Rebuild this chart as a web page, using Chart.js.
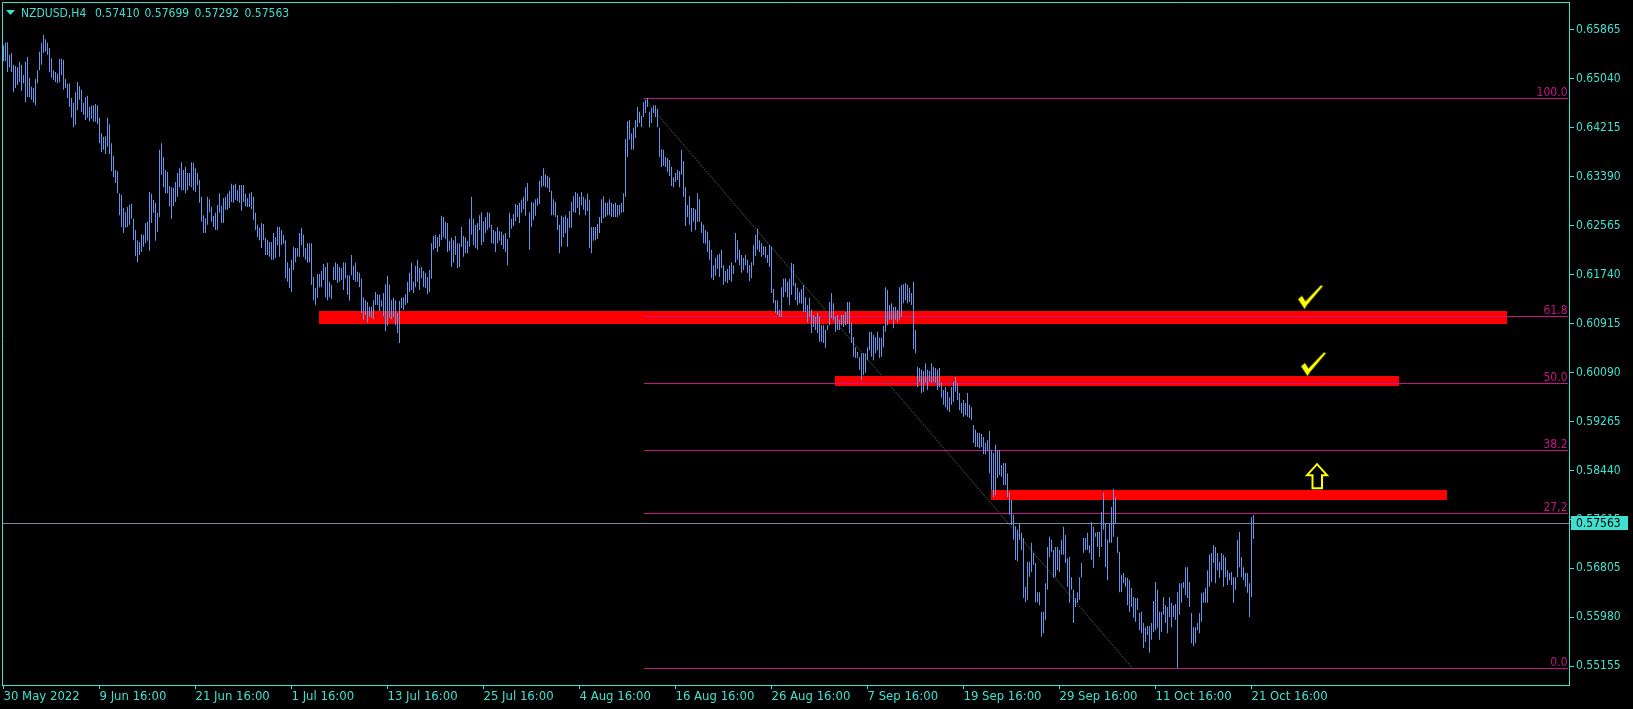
<!DOCTYPE html>
<html>
<head>
<meta charset="utf-8">
<title>NZDUSD,H4</title>
<script src="https://cdn.jsdelivr.net/npm/chart.js@4.4.1/dist/chart.umd.min.js"></script>
<style>
  html, body { margin: 0; padding: 0; background: #000; overflow: hidden; }
  #wrap { width: 1633px; height: 709px; }
</style>
</head>
<body>
<div id="wrap"><canvas id="nzdChart" width="1633" height="709"></canvas></div>
<script>
// NZDUSD H4, one bar every 4 hours from 30 May 2022 16:00
const symbolName = 'NZDUSD,H4';
const lastOHLC = [0.57410, 0.57699, 0.57292, 0.57563];

const timeLabels = ['30 May 2022', '9 Jun 16:00', '21 Jun 16:00', '1 Jul 16:00', '13 Jul 16:00',
  '25 Jul 16:00', '4 Aug 16:00', '16 Aug 16:00', '26 Aug 16:00', '7 Sep 16:00',
  '19 Sep 16:00', '29 Sep 16:00', '11 Oct 16:00', '21 Oct 16:00'];
const barsPerLabel = 48;

const priceTicks = [0.65865, 0.65040, 0.64215, 0.63390, 0.62565, 0.61740, 0.60915,
  0.60090, 0.59265, 0.58440, 0.57615, 0.56805, 0.55980, 0.55155];

// bar highs / lows
const highs = [
  0.6560,0.6564,0.6565,0.6544,0.6547,0.6527,0.6525,0.6523,0.6532,0.6527, // 0
  0.6510,0.6532,0.6540,0.6505,0.6490,0.6488,0.6503,0.6518,0.6549,0.6564,
  0.6577,0.6570,0.6564,0.6555,0.6538,0.6518,0.6515,0.6512,0.6537,0.6537,
  0.6535,0.6503,0.6495,0.6496,0.6471,0.6463,0.6481,0.6498,0.6491,0.6485,
  0.6463,0.6473,0.6475,0.6456,0.6458,0.6459,0.6461,0.6459,0.6438,0.6412,
  0.6406,0.6407,0.6438,0.6427,0.6395,0.6374,0.6350,0.6348,0.6311,0.6308, // 50
  0.6286,0.6279,0.6288,0.6291,0.6293,0.6268,0.6249,0.6232,0.6229,0.6242,
  0.6241,0.6261,0.6263,0.6313,0.6310,0.6300,0.6295,0.6278,0.6384,0.6395,
  0.6372,0.6350,0.6347,0.6323,0.6321,0.6320,0.6330,0.6345,0.6353,0.6363,
  0.6350,0.6355,0.6345,0.6345,0.6363,0.6362,0.6353,0.6345,0.6333,0.6305,
  0.6274,0.6269,0.6305,0.6301,0.6288,0.6273,0.6278,0.6291,0.6311,0.6290, // 100
  0.6303,0.6305,0.6310,0.6315,0.6327,0.6325,0.6327,0.6316,0.6325,0.6325,
  0.6325,0.6310,0.6303,0.6311,0.6313,0.6305,0.6278,0.6258,0.6253,0.6261,
  0.6259,0.6236,0.6232,0.6229,0.6229,0.6244,0.6237,0.6254,0.6254,0.6249,
  0.6241,0.6232,0.6195,0.6185,0.6199,0.6221,0.6219,0.6219,0.6244,0.6253,
  0.6241,0.6219,0.6227,0.6227,0.6227,0.6170,0.6152,0.6175,0.6175,0.6180, // 150
  0.6192,0.6187,0.6194,0.6162,0.6157,0.6187,0.6195,0.6192,0.6187,0.6185,
  0.6195,0.6194,0.6173,0.6173,0.6207,0.6189,0.6194,0.6179,0.6177,0.6167,
  0.6136,0.6131,0.6128,0.6120,0.6120,0.6131,0.6145,0.6141,0.6140,0.6131,
  0.6143,0.6158,0.6172,0.6157,0.6131,0.6135,0.6131,0.6110,0.6130,0.6135,
  0.6136,0.6141,0.6162,0.6177,0.6194,0.6162,0.6189,0.6199,0.6185,0.6187, // 200
  0.6180,0.6177,0.6170,0.6182,0.6227,0.6239,0.6241,0.6237,0.6242,0.6273,
  0.6271,0.6263,0.6261,0.6231,0.6236,0.6232,0.6239,0.6227,0.6227,0.6254,
  0.6239,0.6237,0.6231,0.6268,0.6305,0.6268,0.6258,0.6261,0.6274,0.6279,
  0.6264,0.6271,0.6279,0.6278,0.6258,0.6249,0.6247,0.6254,0.6247,0.6246,
  0.6241,0.6244,0.6234,0.6278,0.6268,0.6276,0.6293,0.6291,0.6295,0.6300, // 250
  0.6305,0.6321,0.6328,0.6279,0.6296,0.6295,0.6301,0.6303,0.6332,0.6340,
  0.6353,0.6343,0.6340,0.6338,0.6315,0.6301,0.6296,0.6274,0.6258,0.6273,
  0.6271,0.6274,0.6269,0.6281,0.6296,0.6306,0.6313,0.6311,0.6305,0.6313,
  0.6305,0.6301,0.6310,0.6300,0.6254,0.6254,0.6254,0.6259,0.6271,0.6301,
  0.6306,0.6295,0.6295,0.6301,0.6295,0.6293,0.6295,0.6291,0.6291,0.6295, // 300
  0.6311,0.6402,0.6432,0.6434,0.6412,0.6421,0.6434,0.6456,0.6448,0.6441,
  0.6464,0.6468,0.6471,0.6448,0.6454,0.6459,0.6459,0.6453,0.6421,0.6385,
  0.6384,0.6372,0.6370,0.6367,0.6355,0.6338,0.6345,0.6350,0.6348,0.6384,
  0.6365,0.6321,0.6291,0.6306,0.6286,0.6286,0.6284,0.6311,0.6301,0.6263,
  0.6258,0.6249,0.6246,0.6232,0.6216,0.6190,0.6202,0.6207,0.6209,0.6216, // 350
  0.6190,0.6180,0.6184,0.6190,0.6195,0.6190,0.6244,0.6232,0.6216,0.6207,
  0.6202,0.6207,0.6199,0.6190,0.6195,0.6224,0.6241,0.6251,0.6232,0.6227,
  0.6222,0.6221,0.6207,0.6224,0.6221,0.6150,0.6131,0.6131,0.6115,0.6153,
  0.6167,0.6168,0.6162,0.6167,0.6194,0.6192,0.6160,0.6152,0.6145,0.6150,
  0.6157,0.6136,0.6123,0.6135,0.6115,0.6106,0.6103,0.6110,0.6103,0.6089, // 400
  0.6089,0.6081,0.6089,0.6128,0.6143,0.6126,0.6103,0.6106,0.6098,0.6106,
  0.6106,0.6111,0.6128,0.6128,0.6093,0.6069,0.6052,0.6044,0.6035,0.6042,
  0.6042,0.6042,0.6052,0.6078,0.6078,0.6073,0.6069,0.6078,0.6068,0.6068,
  0.6088,0.6153,0.6148,0.6123,0.6126,0.6120,0.6120,0.6115,0.6153,0.6157,
  0.6158,0.6160,0.6157,0.6152,0.6143,0.6162,0.6081,0.6019,0.6017,0.6014, // 450
  0.6012,0.6025,0.6014,0.6012,0.6025,0.6019,0.6017,0.6014,0.6017,0.5992,
  0.5980,0.5985,0.5977,0.5968,0.5985,0.5994,0.6002,0.5992,0.5975,0.5958,
  0.5963,0.5958,0.5975,0.5955,0.5951,0.5921,0.5913,0.5908,0.5908,0.5906,
  0.5901,0.5891,0.5896,0.5911,0.5879,0.5874,0.5888,0.5879,0.5879,0.5854,
  0.5857,0.5857,0.5840,0.5808,0.5795,0.5770,0.5751,0.5745,0.5756,0.5740, // 500
  0.5731,0.5649,0.5691,0.5691,0.5723,0.5706,0.5689,0.5640,0.5640,0.5607,
  0.5607,0.5655,0.5716,0.5733,0.5728,0.5711,0.5716,0.5716,0.5711,0.5728,
  0.5750,0.5736,0.5697,0.5699,0.5665,0.5644,0.5630,0.5640,0.5665,0.5689,
  0.5731,0.5731,0.5740,0.5719,0.5758,0.5750,0.5740,0.5741,0.5741,0.5775,
  0.5807,0.5755,0.5728,0.5755,0.5783,0.5813,0.5800,0.5733,0.5708,0.5669, // 550
  0.5672,0.5665,0.5664,0.5660,0.5647,0.5632,0.5630,0.5630,0.5605,0.5607,
  0.5588,0.5581,0.5583,0.5583,0.5588,0.5625,0.5657,0.5644,0.5607,0.5607,
  0.5632,0.5618,0.5615,0.5632,0.5622,0.5618,0.5620,0.5640,0.5655,0.5655,
  0.5657,0.5682,0.5682,0.5657,0.5605,0.5581,0.5581,0.5588,0.5605,0.5639,
  0.5640,0.5647,0.5677,0.5703,0.5706,0.5719,0.5716,0.5706,0.5691,0.5706, // 600
  0.5703,0.5699,0.5677,0.5672,0.5674,0.5665,0.5665,0.5728,0.5741,0.5699,
  0.5682,0.5672,0.5672,0.5655,0.5766,0.57699
];
const lows = [
  0.6533,0.6533,0.6515,0.6523,0.6515,0.6481,0.6488,0.6493,0.6498,0.6483, // 0
  0.6496,0.6464,0.6473,0.6473,0.6468,0.6463,0.6459,0.6496,0.6518,0.6527,
  0.6547,0.6549,0.6544,0.6515,0.6505,0.6501,0.6498,0.6496,0.6498,0.6510,
  0.6485,0.6488,0.6471,0.6456,0.6438,0.6422,0.6426,0.6451,0.6468,0.6448,
  0.6443,0.6434,0.6438,0.6432,0.6436,0.6431,0.6431,0.6427,0.6395,0.6380,
  0.6384,0.6377,0.6389,0.6377,0.6348,0.6338,0.6328,0.6311,0.6274,0.6254, // 50
  0.6244,0.6253,0.6254,0.6258,0.6268,0.6232,0.6205,0.6195,0.6207,0.6212,
  0.6221,0.6227,0.6231,0.6214,0.6261,0.6278,0.6231,0.6246,0.6271,0.6342,
  0.6321,0.6311,0.6311,0.6289,0.6268,0.6289,0.6296,0.6305,0.6321,0.6316,
  0.6316,0.6311,0.6316,0.6323,0.6321,0.6316,0.6313,0.6325,0.6295,0.6263,
  0.6244,0.6244,0.6258,0.6279,0.6263,0.6254,0.6249,0.6249,0.6278,0.6261, // 100
  0.6261,0.6283,0.6283,0.6286,0.6296,0.6295,0.6300,0.6298,0.6295,0.6281,
  0.6296,0.6289,0.6288,0.6288,0.6284,0.6266,0.6249,0.6237,0.6232,0.6219,
  0.6232,0.6207,0.6207,0.6204,0.6199,0.6199,0.6202,0.6224,0.6204,0.6224,
  0.6226,0.6168,0.6162,0.6152,0.6145,0.6182,0.6195,0.6204,0.6204,0.6224,
  0.6204,0.6199,0.6194,0.6195,0.6157,0.6131,0.6123,0.6135,0.6153,0.6153, // 150
  0.6165,0.6136,0.6131,0.6136,0.6133,0.6165,0.6165,0.6160,0.6162,0.6165,
  0.6148,0.6168,0.6140,0.6130,0.6173,0.6165,0.6162,0.6162,0.6153,0.6110,
  0.6098,0.6106,0.6093,0.6103,0.6101,0.6099,0.6123,0.6123,0.6113,0.6120,
  0.6104,0.6079,0.6088,0.6101,0.6099,0.6103,0.6089,0.6076,0.6059,0.6118,
  0.6115,0.6123,0.6126,0.6145,0.6148,0.6143,0.6153,0.6162,0.6148,0.6168, // 200
  0.6153,0.6152,0.6141,0.6145,0.6167,0.6216,0.6219,0.6212,0.6221,0.6232,
  0.6237,0.6234,0.6212,0.6214,0.6187,0.6194,0.6207,0.6185,0.6187,0.6221,
  0.6204,0.6210,0.6210,0.6221,0.6241,0.6224,0.6219,0.6216,0.6249,0.6224,
  0.6229,0.6244,0.6249,0.6253,0.6227,0.6226,0.6212,0.6227,0.6231,0.6224,
  0.6217,0.6212,0.6190,0.6236,0.6251,0.6256,0.6264,0.6271,0.6261,0.6278, // 250
  0.6284,0.6273,0.6298,0.6216,0.6254,0.6266,0.6273,0.6290,0.6293,0.6321,
  0.6323,0.6321,0.6320,0.6313,0.6274,0.6274,0.6271,0.6249,0.6210,0.6221,
  0.6237,0.6244,0.6221,0.6253,0.6253,0.6279,0.6278,0.6286,0.6274,0.6291,
  0.6283,0.6274,0.6281,0.6219,0.6210,0.6231,0.6232,0.6234,0.6244,0.6261,
  0.6269,0.6271,0.6274,0.6274,0.6271,0.6271,0.6271,0.6271,0.6274,0.6278, // 300
  0.6279,0.6305,0.6372,0.6401,0.6384,0.6384,0.6404,0.6422,0.6429,0.6422,
  0.6439,0.6446,0.6456,0.6422,0.6429,0.6446,0.6439,0.6422,0.6372,0.6355,
  0.6357,0.6355,0.6347,0.6340,0.6323,0.6321,0.6330,0.6333,0.6321,0.6342,
  0.6305,0.6256,0.6271,0.6258,0.6246,0.6263,0.6249,0.6263,0.6263,0.6244,
  0.6227,0.6226,0.6212,0.6199,0.6168,0.6165,0.6172,0.6184,0.6170,0.6185, // 350
  0.6157,0.6162,0.6160,0.6165,0.6162,0.6175,0.6194,0.6199,0.6190,0.6177,
  0.6182,0.6190,0.6177,0.6163,0.6168,0.6190,0.6205,0.6216,0.6212,0.6204,
  0.6207,0.6202,0.6194,0.6187,0.6143,0.6126,0.6110,0.6106,0.6103,0.6103,
  0.6136,0.6145,0.6136,0.6123,0.6140,0.6155,0.6131,0.6123,0.6126,0.6125,
  0.6111,0.6111,0.6094,0.6103,0.6076,0.6086,0.6081,0.6076,0.6061,0.6061, // 400
  0.6059,0.6051,0.6081,0.6089,0.6101,0.6098,0.6078,0.6081,0.6081,0.6089,
  0.6086,0.6089,0.6091,0.6076,0.6059,0.6036,0.6034,0.6034,0.6014,0.5997,
  0.6005,0.6009,0.6030,0.6047,0.6036,0.6030,0.6042,0.6047,0.6034,0.6036,
  0.6052,0.6078,0.6089,0.6098,0.6098,0.6084,0.6098,0.6094,0.6098,0.6103,
  0.6126,0.6131,0.6126,0.6128,0.6123,0.6049,0.6042,0.5985,0.5994,0.5975, // 450
  0.5977,0.5992,0.5980,0.5994,0.5992,0.5994,0.5992,0.5980,0.5985,0.5967,
  0.5955,0.5951,0.5946,0.5943,0.5955,0.5960,0.5977,0.5963,0.5946,0.5941,
  0.5935,0.5938,0.5935,0.5933,0.5930,0.5891,0.5884,0.5884,0.5882,0.5884,
  0.5872,0.5872,0.5877,0.5840,0.5812,0.5800,0.5803,0.5832,0.5837,0.5834,
  0.5820,0.5820,0.5800,0.5770,0.5753,0.5728,0.5694,0.5692,0.5728,0.5711, // 500
  0.5630,0.5623,0.5627,0.5666,0.5674,0.5686,0.5623,0.5623,0.5618,0.5565,
  0.5571,0.5593,0.5644,0.5699,0.5708,0.5664,0.5666,0.5677,0.5674,0.5703,
  0.5703,0.5689,0.5649,0.5622,0.5644,0.5588,0.5615,0.5622,0.5627,0.5665,
  0.5706,0.5711,0.5711,0.5706,0.5694,0.5681,0.5733,0.5716,0.5699,0.5716,
  0.5745,0.5682,0.5660,0.5723,0.5723,0.5733,0.5756,0.5706,0.5640,0.5640, // 550
  0.5655,0.5649,0.5618,0.5607,0.5615,0.5597,0.5590,0.5610,0.5576,0.5571,
  0.5546,0.5556,0.5568,0.5538,0.5560,0.5573,0.5576,0.5580,0.5560,0.5573,
  0.5602,0.5588,0.5571,0.5598,0.5581,0.5598,0.5593,0.5512,0.5602,0.5622,
  0.5647,0.5635,0.5630,0.5615,0.5554,0.5549,0.5554,0.5576,0.5571,0.5590,
  0.5622,0.5622,0.5622,0.5649,0.5657,0.5689,0.5655,0.5677,0.5664,0.5677, // 600
  0.5649,0.5665,0.5652,0.5660,0.5652,0.5622,0.5644,0.5665,0.5682,0.5665,
  0.5660,0.5649,0.5639,0.5598,0.5632,0.57292
];

// Fibonacci retracement object
const fibLevels = [100, 61.8, 50, 38.2, 27.2, 0];
const fibLabels = ['100.0', '61.8', '50.0', '38.2', '27,2', '0.0'];
const fibHigh = 0.6471;
const fibLow = 0.5512;
const fibFromBar = 320;
const fibToBar = 564.5;

// red zones (bar index from/to, price top/bottom)
const zoneFrom = [157.75, 415.75, 493.75];
const zoneTo = [751.75, 697.75, 721.75];
const zoneTop = [0.6113, 0.6004, 0.5812];
const zoneBottom = [0.6091, 0.5987, 0.5795];

// chart marks
const markKind = ['check', 'check', 'arrow'];
const markBar = [653.5, 655, 656.75];
const markPrice = [0.6137, 0.6024, 0.5835];

const AXIS_COL = '#40e0d0';
const BAR_COL = '#6495ed';
const FIB_COL = '#c71585';
const FONT = '"DejaVu Sans Condensed", "DejaVu Sans", sans-serif';

function drawCheck(ctx, cx, cy) {
  const ox = cx - 12.5, oy = cy - 11.5;
  const pts = [[0, 14], [4, 10.5], [7.5, 16], [23, 0], [25, 1], [9, 20], [6.5, 24]];
  ctx.beginPath();
  pts.forEach((p, k) => k ? ctx.lineTo(ox + p[0], oy + p[1]) : ctx.moveTo(ox + p[0], oy + p[1]));
  ctx.closePath();
  ctx.fillStyle = '#ffff00';
  ctx.fill();
  ctx.strokeStyle = 'rgba(90,90,0,0.9)';
  ctx.lineWidth = 1;
  ctx.stroke();
}

function drawArrow(ctx, cx, cy) {
  const ox = cx - 11, oy = cy - 13;
  const pts = [[11, 1], [21, 12], [16, 12], [16, 25], [6.5, 25], [6.5, 12], [1, 12]];
  ctx.beginPath();
  pts.forEach((p, k) => k ? ctx.lineTo(ox + p[0], oy + p[1]) : ctx.moveTo(ox + p[0], oy + p[1]));
  ctx.closePath();
  ctx.fillStyle = '#000';
  ctx.fill();
  ctx.strokeStyle = '#ffff00';
  ctx.lineWidth = 2;
  ctx.stroke();
}

const mtOverlay = {
  id: 'mtOverlay',
  beforeDatasetsDraw(chart) {
    const { ctx, chartArea: a, scales: { x, y } } = chart;
    ctx.save();
    ctx.beginPath();
    ctx.rect(a.left, a.top, a.right - a.left, a.bottom - a.top);
    ctx.clip();

    // red zones
    ctx.fillStyle = '#ff0000';
    zoneFrom.forEach((f, k) => {
      const x0 = Math.round(x.getPixelForValue(f));
      const x1 = Math.round(x.getPixelForValue(zoneTo[k]));
      const y0 = Math.round(y.getPixelForValue(zoneTop[k]));
      const y1 = Math.round(y.getPixelForValue(zoneBottom[k]));
      ctx.fillRect(x0, y0, x1 - x0, y1 - y0);
    });

    // bid line
    const py = Math.round(y.getPixelForValue(lastOHLC[3])) + 0.5;
    ctx.strokeStyle = '#778899';
    ctx.lineWidth = 1;
    ctx.beginPath();
    ctx.moveTo(a.left, py);
    ctx.lineTo(a.right, py);
    ctx.stroke();

    // fib levels
    const fx = x.getPixelForValue(fibFromBar);
    ctx.strokeStyle = FIB_COL;
    fibLevels.forEach(l => {
      const ly = Math.round(y.getPixelForValue(fibLow + (fibHigh - fibLow) * l / 100)) + 0.5;
      ctx.beginPath();
      ctx.moveTo(Math.round(fx), ly);
      ctx.lineTo(a.right - 1, ly);
      ctx.stroke();
    });

    // fib base line
    ctx.strokeStyle = '#3a5a53';
    ctx.setLineDash([2, 1]);
    ctx.beginPath();
    ctx.moveTo(fx, y.getPixelForValue(fibHigh));
    ctx.lineTo(x.getPixelForValue(fibToBar), y.getPixelForValue(fibLow));
    ctx.stroke();
    ctx.restore();
  },
  afterDraw(chart) {
    const { ctx, chartArea: a, scales: { x, y } } = chart;
    ctx.save();

    // left / top frame
    ctx.strokeStyle = AXIS_COL;
    ctx.lineWidth = 1;
    ctx.beginPath();
    ctx.moveTo(a.left + 0.5, a.bottom);
    ctx.lineTo(a.left + 0.5, a.top + 0.5);
    ctx.lineTo(a.right, a.top + 0.5);
    ctx.stroke();

    // fib labels
    ctx.font = '12px ' + FONT;
    ctx.fillStyle = FIB_COL;
    ctx.textAlign = 'right';
    ctx.textBaseline = 'alphabetic';
    fibLevels.forEach((l, k) => {
      const ly = Math.round(y.getPixelForValue(fibLow + (fibHigh - fibLow) * l / 100));
      ctx.fillText(fibLabels[k], a.right - 1.5, ly - 2);
    });

    // marks
    markKind.forEach((kind, k) => {
      const mx = x.getPixelForValue(markBar[k]);
      const my = y.getPixelForValue(markPrice[k]);
      if (kind === 'check') drawCheck(ctx, mx, my);
      else drawArrow(ctx, mx, my);
    });

    // bid price label on the axis
    const by = Math.round(y.getPixelForValue(lastOHLC[3]));
    ctx.fillStyle = AXIS_COL;
    ctx.fillRect(y.left + 2, by - 7, 57, 14);
    ctx.fillStyle = '#000';
    ctx.textAlign = 'left';
    ctx.textBaseline = 'middle';
    ctx.fillText(lastOHLC[3].toFixed(5), y.left + 7, by + 0.5);

    // header
    ctx.fillStyle = AXIS_COL;
    ctx.beginPath();
    ctx.moveTo(6, 10); ctx.lineTo(15, 10); ctx.lineTo(10.5, 15);
    ctx.closePath();
    ctx.fill();
    ctx.textBaseline = 'alphabetic';
    ctx.fillText(symbolName, 21, 17);
    [95, 144.5, 194.5, 244.5].forEach((tx, k) => ctx.fillText(lastOHLC[k].toFixed(5), tx, 17));
    ctx.restore();
  }
};

new Chart(document.getElementById('nzdChart').getContext('2d'), {
  type: 'bar',
  data: {
    datasets: [{
      data: highs.map((h, i) => ({ x: i, y: [lows[i], h] })),
      backgroundColor: BAR_COL,
      borderWidth: 0,
      barThickness: 1,
      inflateAmount: 0
    }]
  },
  options: {
    responsive: false,
    animation: false,
    events: [],
    layout: { padding: { left: 2, top: 2, right: 0, bottom: 0 } },
    plugins: {
      legend: { display: false },
      tooltip: { enabled: false },
      title: { display: false }
    },
    scales: {
      x: {
        type: 'linear',
        min: -0.75,
        max: 782.75,
        offset: false,
        grid: { drawOnChartArea: false, drawTicks: true, tickLength: 4, color: AXIS_COL, offset: false },
        border: { display: true, color: AXIS_COL },
        ticks: {
          autoSkip: false, maxRotation: 0, minRotation: 0, align: 'start', padding: 0,
          color: AXIS_COL, font: { family: FONT, size: 13 },
          callback: (v, i) => timeLabels[i]
        },
        afterBuildTicks: s => { s.ticks = timeLabels.map((t, k) => ({ value: k * barsPerLabel })); },
        afterFit: s => { s.height = 24; s.paddingLeft = 0; s.paddingRight = 0; }
      },
      y: {
        position: 'right',
        min: 0.54838,
        max: 0.66326,
        grid: { drawOnChartArea: false, drawTicks: true, tickLength: 5, color: AXIS_COL },
        border: { display: true, color: AXIS_COL },
        ticks: {
          autoSkip: false, padding: 2, color: AXIS_COL, font: { family: FONT, size: 12 },
          callback: v => v.toFixed(5)
        },
        afterBuildTicks: s => { s.ticks = priceTicks.map(v => ({ value: v })); },
        afterFit: s => { s.width = 64; s.paddingTop = 0; s.paddingBottom = 0; }
      }
    }
  },
  plugins: [mtOverlay]
});
</script>
</body>
</html>
